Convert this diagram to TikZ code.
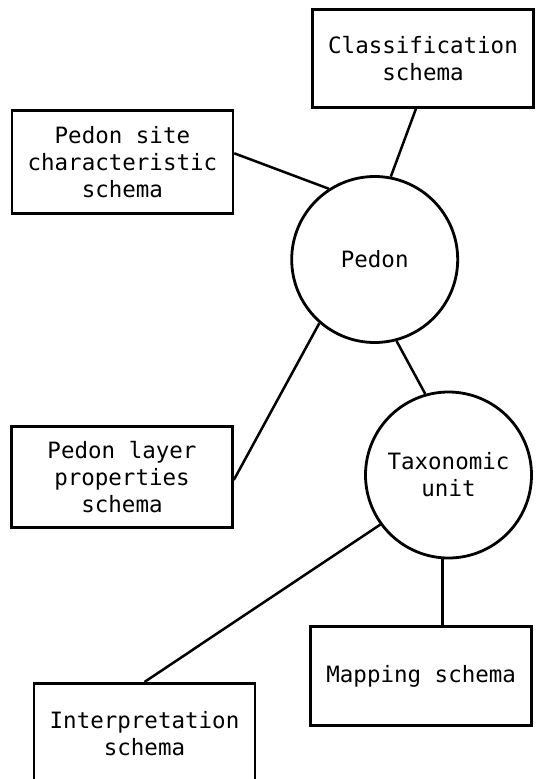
\documentclass[tikz,border=0pt]{standalone}
\usepackage{fontspec}
\setmonofont{DejaVu Sans Mono}
\begin{document}
\begin{tikzpicture}[x=1pt,y=-1pt,
  txt/.style={font=\ttfamily\fontsize{22.5}{27}\selectfont, align=center},
  box/.style={txt, draw, line width=2.7pt, minimum width=221pt, minimum height=100pt, inner sep=0pt},
  circ/.style={txt, draw, circle, line width=2.8pt, minimum size=166pt, inner sep=0pt},
  link/.style={line width=2.5pt}]
\path[use as bounding box, clip] (0,0) rectangle (536,779);
\fill[white] (0,0) rectangle (536,779);
\node[box, minimum height=98pt] (cls) at (423,58.3) {Classification\\schema};
\node[box, minimum height=103pt] (site) at (122.4,161.7) {Pedon site\\characteristic\\schema};
\node[circ] (ped) at (374.7,259.5) {Pedon};
\node[box, minimum height=101.5pt] (layer) at (122,476.9) {Pedon layer\\properties\\schema};
\node[circ] (tax) at (448.5,475) {Taxonomic\\unit};
\node[box, minimum height=99pt] (map) at (421.2,676.2) {Mapping schema};
\node[box] (int) at (144.5,733.3) {Interpretation\\schema};
\draw[link] ([xshift=-7pt]cls.south) -- (ped.79);
\draw[link] ([yshift=8.4pt]site.east) -- (ped.123.5);
\draw[link] (ped.229.3) -- ([yshift=-3pt]layer.east);
\draw[link] (ped.285) -- (tax.106);
\draw[link] (tax.216) -- (int.north);
\draw[link] (tax.266) -- (map.north -| tax.266);
\end{tikzpicture}
\end{document}
